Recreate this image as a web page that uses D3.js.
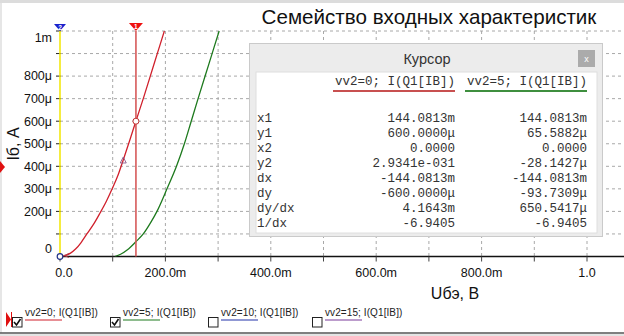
<!DOCTYPE html>
<html>
<head>
<meta charset="utf-8">
<script src="https://cdn.jsdelivr.net/npm/d3@7"></script>
<style>
  body { margin: 0; background: #fff; }
  svg { display: block; font-family: "Liberation Sans", Arial, sans-serif; }
</style>
</head>
<body>
<div class="canvas"></div>
<script>
// curve data (Uбэ in V, Iб in A)
const redX = [0, 0.01, 0.02, 0.03, 0.04, 0.051, 0.065, 0.076, 0.088, 0.099, 0.11, 0.12, 0.133, 0.144, 0.158, 0.17, 0.184, 0.198];
const redY = [0, 4, 15, 34, 62, 100, 148, 193, 245, 300, 360, 428, 520, 600, 700, 790, 895, 1000].map((v) => v * 1e-6);
const greenX = [0.104, 0.115, 0.128, 0.144, 0.158, 0.172, 0.184, 0.203, 0.221, 0.236, 0.249, 0.262, 0.282, 0.302];
const greenY = [0, 10, 30, 65.6, 100, 150, 200, 300, 400, 500, 600, 700, 850, 1000].map((v) => v * 1e-6);

// axes
const xTickValues = [0, 0.1, 0.2, 0.3, 0.4, 0.5, 0.6, 0.7, 0.8, 0.9, 1.0];
const xLabelValues = [0, 0.2, 0.4, 0.6, 0.8, 1.0];
const xLabels = ["0.0", "200.0m", "400.0m", "600.0m", "800.0m", "1.0"];
const yTickValues = [0, 1, 2, 3, 4, 5, 6, 7, 8, 9, 10].map((v) => v * 1e-4);
const yLabelValues = [0, 2e-4, 3e-4, 4e-4, 5e-4, 6e-4, 7e-4, 8e-4, 1e-3];
const yLabels = ["0", "200\u03bc", "300\u03bc", "400\u03bc", "500\u03bc", "600\u03bc", "700\u03bc", "800\u03bc", "1m"];

// cursors
const cursor1 = 0.1440813;
const cursor2 = 0;

// cursor table
const rowLabels = ["x1", "y1", "x2", "y2", "dx", "dy", "dy/dx", "1/dx"];
const col1Values = ["144.0813m", "600.0000\u03bc", "0.0000", "2.9341e-031", "-144.0813m", "-600.0000\u03bc", "4.1643m", "-6.9405"];
const col2Values = ["144.0813m", "65.5882\u03bc", "0.0000", "-28.1427\u03bc", "-144.0813m", "-93.7309\u03bc", "650.5417\u03bc", "-6.9405"];
const colHeaders = ["vv2=0; I(Q1[IB])", "vv2=5; I(Q1[IB])"];

// legend
const seriesNames = ["vv2=0; I(Q1[IB])", "vv2=5; I(Q1[IB])", "vv2=10; I(Q1[IB])", "vv2=15; I(Q1[IB])"];
const seriesChecked = [true, true, false, false];

const colors = ["#d0202c", "#1e7a1e", "#2233aa", "#7a3a9a"];
const dims = { width: 624, height: 336 };
const plot = { left: 60, right: 587, top: 31, bottom: 256.5, edge: 624 };

const svg = d3
  .select(".canvas")
  .append("svg")
  .attr("width", dims.width)
  .attr("height", dims.height);

// frame bits
svg.append("rect").attr("x", 0).attr("y", 0).attr("width", dims.width).attr("height", 3).attr("fill", "#dcdcdc");
svg.append("rect").attr("x", 0).attr("y", 3).attr("width", 2).attr("height", 330).attr("fill", "#e6e6e6");
svg.append("rect").attr("x", 0).attr("y", 334).attr("width", dims.width).attr("height", 2).attr("fill", "#e4e4e4");
svg.append("line").attr("x1", 0).attr("x2", dims.width).attr("y1", 333).attr("y2", 333)
  .attr("stroke", "#555").attr("stroke-width", 1.5);

const x = d3.scaleLinear().domain([0, 1]).range([plot.left, plot.right]);
const y = d3.scaleLinear().domain([0, 1e-3]).range([plot.bottom, plot.top]);

// title
svg.append("text")
  .attr("x", 429).attr("y", 23.5)
  .attr("text-anchor", "middle")
  .attr("font-size", 20.6)
  .attr("fill", "#111")
  .text("Семейство входных характеристик");

// grid
const grid = svg.append("g").attr("stroke", "#a8a8a8").attr("stroke-dasharray", "3,3");
grid.selectAll("line.v")
  .data(xTickValues.slice(1))
  .enter().append("line")
  .attr("x1", (d) => x(d)).attr("x2", (d) => x(d))
  .attr("y1", plot.top).attr("y2", plot.bottom);
grid.selectAll("line.h")
  .data(yTickValues.slice(1))
  .enter().append("line")
  .attr("x1", plot.left).attr("x2", plot.edge)
  .attr("y1", (d) => y(d)).attr("y2", (d) => y(d));

// y ticks + labels
svg.append("g").selectAll("line")
  .data(yTickValues.slice(1))
  .enter().append("line")
  .attr("x1", 56).attr("x2", 61)
  .attr("y1", (d) => y(d)).attr("y2", (d) => y(d))
  .attr("stroke", "#222");

svg.append("g").selectAll("text")
  .data(yLabelValues)
  .enter().append("text")
  .attr("x", 52)
  .attr("y", (d) => Math.min(Math.max(y(d), 38), 249))
  .attr("dy", "0.35em")
  .attr("text-anchor", "end")
  .attr("font-size", 12.5)
  .attr("fill", "#111")
  .text((d, i) => yLabels[i]);

// x axis
svg.append("line")
  .attr("x1", plot.left).attr("x2", plot.edge)
  .attr("y1", plot.bottom).attr("y2", plot.bottom)
  .attr("stroke", "#111").attr("stroke-width", 1.5);

svg.append("g").selectAll("line")
  .data(xTickValues)
  .enter().append("line")
  .attr("x1", (d) => x(d)).attr("x2", (d) => x(d))
  .attr("y1", plot.bottom).attr("y2", plot.bottom + 5)
  .attr("stroke", "#444");

svg.append("g").selectAll("text")
  .data(xLabelValues)
  .enter().append("text")
  .attr("x", (d) => x(d) + (d === 0 ? 4 : 0))
  .attr("y", 277)
  .attr("text-anchor", "middle")
  .attr("font-size", 12.5)
  .attr("fill", "#111")
  .text((d, i) => xLabels[i]);

// axis titles
svg.append("text")
  .attr("x", 455).attr("y", 298.5)
  .attr("text-anchor", "middle")
  .attr("font-size", 16)
  .attr("fill", "#111")
  .text("Uбэ, В");

svg.append("text")
  .attr("transform", "translate(19, 144) rotate(-90)")
  .attr("text-anchor", "middle")
  .attr("font-size", 16)
  .attr("fill", "#111")
  .text("Iб, A");

// red cursor grip at left edge
svg.append("path")
  .attr("d", "M0,161 L5,167 L0,173 Z")
  .attr("fill", "#e01010");

// curves
svg.append("clipPath").attr("id", "clip")
  .append("rect")
  .attr("x", plot.left).attr("y", plot.top)
  .attr("width", plot.edge - plot.left).attr("height", plot.bottom - plot.top);

const line = d3.line()
  .x((d) => x(d[0]))
  .y((d) => y(d[1]))
  .curve(d3.curveMonotoneX);

const curves = svg.append("g").attr("clip-path", "url(#clip)");
curves.append("path")
  .datum(d3.zip(greenX, greenY))
  .attr("d", line)
  .attr("fill", "none")
  .attr("stroke", colors[1])
  .attr("stroke-width", 1.3);
curves.append("path")
  .datum(d3.zip(redX, redY))
  .attr("d", line)
  .attr("fill", "none")
  .attr("stroke", colors[0])
  .attr("stroke-width", 1.3);

// cursor lines
svg.append("line")
  .attr("x1", x(cursor2)).attr("x2", x(cursor2))
  .attr("y1", plot.top).attr("y2", plot.bottom)
  .attr("stroke", "#f2e600").attr("stroke-width", 1.5);
svg.append("line")
  .attr("x1", x(cursor1)).attr("x2", x(cursor1))
  .attr("y1", plot.top).attr("y2", plot.bottom)
  .attr("stroke", "#d65a5a").attr("stroke-width", 1.6);

const flag = (cx, w, h, fill, label) => {
  svg.append("path")
    .attr("d", `M${cx - w / 2},${plot.top - h} L${cx + w / 2},${plot.top - h} L${cx},${plot.top} Z`)
    .attr("fill", fill);
  svg.append("text")
    .attr("x", cx).attr("y", plot.top - h + 6)
    .attr("text-anchor", "middle")
    .attr("font-size", 6.5).attr("font-weight", "bold")
    .attr("fill", "#fff")
    .text(label);
};
flag(x(cursor2), 12, 7, "#1a22cc", "2");
flag(x(cursor1), 14, 8, "#ee1010", "1");

// markers on curves
svg.append("circle")
  .attr("cx", x(cursor1)).attr("cy", y(600e-6)).attr("r", 3)
  .attr("fill", "#fff").attr("stroke", "#c03030").attr("stroke-width", 1);
svg.append("circle")
  .attr("cx", x(0)).attr("cy", y(0)).attr("r", 2.8)
  .attr("fill", "#fff").attr("stroke", "#223388").attr("stroke-width", 1.2);
svg.append("path")
  .attr("d", `M${x(0.12) - 3},${y(428e-6) + 3} L${x(0.12)},${y(428e-6) - 3} L${x(0.12) + 3},${y(428e-6) + 3} Z`)
  .attr("fill", "none").attr("stroke", "#8a5a8a").attr("stroke-width", 0.9);
svg.append("path")
  .attr("d", `M${x(0) + 9},${y(0) - 3} L${x(0) + 4},${y(0) - 1} L${x(0) + 9},${y(0) + 1}`)
  .attr("fill", "none").attr("stroke", "#b04050").attr("stroke-width", 0.9);

// cursor panel
const panel = svg.append("g");
panel.append("rect")
  .attr("x", 249.5).attr("y", 43.5).attr("width", 353).attr("height", 193)
  .attr("fill", "#ececec").attr("stroke", "#cacaca");
panel.append("rect")
  .attr("x", 256).attr("y", 72).attr("width", 341).attr("height", 161)
  .attr("fill", "#fff").attr("stroke", "#dedede");
panel.append("text")
  .attr("x", 427).attr("y", 63.5)
  .attr("text-anchor", "middle")
  .attr("font-size", 14.5)
  .attr("fill", "#333")
  .text("Курсор");
panel.append("rect")
  .attr("x", 578).attr("y", 50).attr("width", 17).attr("height", 17)
  .attr("fill", "#ababab");
panel.append("text")
  .attr("x", 586.5).attr("y", 61.5)
  .attr("text-anchor", "middle")
  .attr("font-size", 9)
  .attr("fill", "#fff")
  .text("x");

const mono = '"Liberation Mono", "Courier New", monospace';
const colRight = [455, 587];

colHeaders.forEach((h, i) => {
  panel.append("text")
    .attr("x", colRight[i]).attr("y", 85)
    .attr("text-anchor", "end")
    .attr("font-family", mono).attr("font-size", 12.5)
    .attr("fill", "#333")
    .text(h);
  panel.append("line")
    .attr("x1", colRight[i] - 122).attr("x2", colRight[i])
    .attr("y1", 91).attr("y2", 91)
    .attr("stroke", i === 0 ? "#c85050" : "#3f8f3f").attr("stroke-width", 2);
});

const rowY = d3.scaleLinear().domain([0, 1]).range([122, 137]);
const rows = panel.selectAll("g.row")
  .data(rowLabels)
  .enter().append("g")
  .attr("font-family", mono).attr("font-size", 12.5).attr("fill", "#333");
rows.append("text").attr("x", 257).attr("y", (d, i) => rowY(i)).text((d) => d);
rows.append("text").attr("x", colRight[0]).attr("y", (d, i) => rowY(i))
  .attr("text-anchor", "end").text((d, i) => col1Values[i]);
rows.append("text").attr("x", colRight[1]).attr("y", (d, i) => rowY(i))
  .attr("text-anchor", "end").text((d, i) => col2Values[i]);

// legend
const legendX = [12, 110, 208, 312];
svg.append("path")
  .attr("d", "M6,312 L11,319.5 L6,327 Z M11,312 L12,312 L12,327 L11,327 Z")
  .attr("fill", "#e01010");

const items = svg.selectAll("g.legend")
  .data(seriesNames)
  .enter().append("g")
  .attr("transform", (d, i) => `translate(${legendX[i]}, 0)`);
items.append("rect")
  .attr("x", 0.5).attr("y", 317.5).attr("width", 9.5).attr("height", 9.5)
  .attr("fill", "#fff").attr("stroke", "#222");
items.filter((d, i) => seriesChecked[i])
  .append("path")
  .attr("d", "M2,322 L4.5,325 L8.5,319")
  .attr("fill", "none").attr("stroke", "#111").attr("stroke-width", 1.6);
items.append("text")
  .attr("x", 13).attr("y", 316)
  .attr("font-size", 10).attr("fill", "#222")
  .attr("textLength", (d) => d.length * 4.55)
  .text((d) => d);
items.append("line")
  .attr("x1", 13).attr("x2", 50)
  .attr("y1", 320).attr("y2", 320)
  .attr("stroke", (d, i) => colors[i]).attr("stroke-width", 1.2);
</script>
</body>
</html>
